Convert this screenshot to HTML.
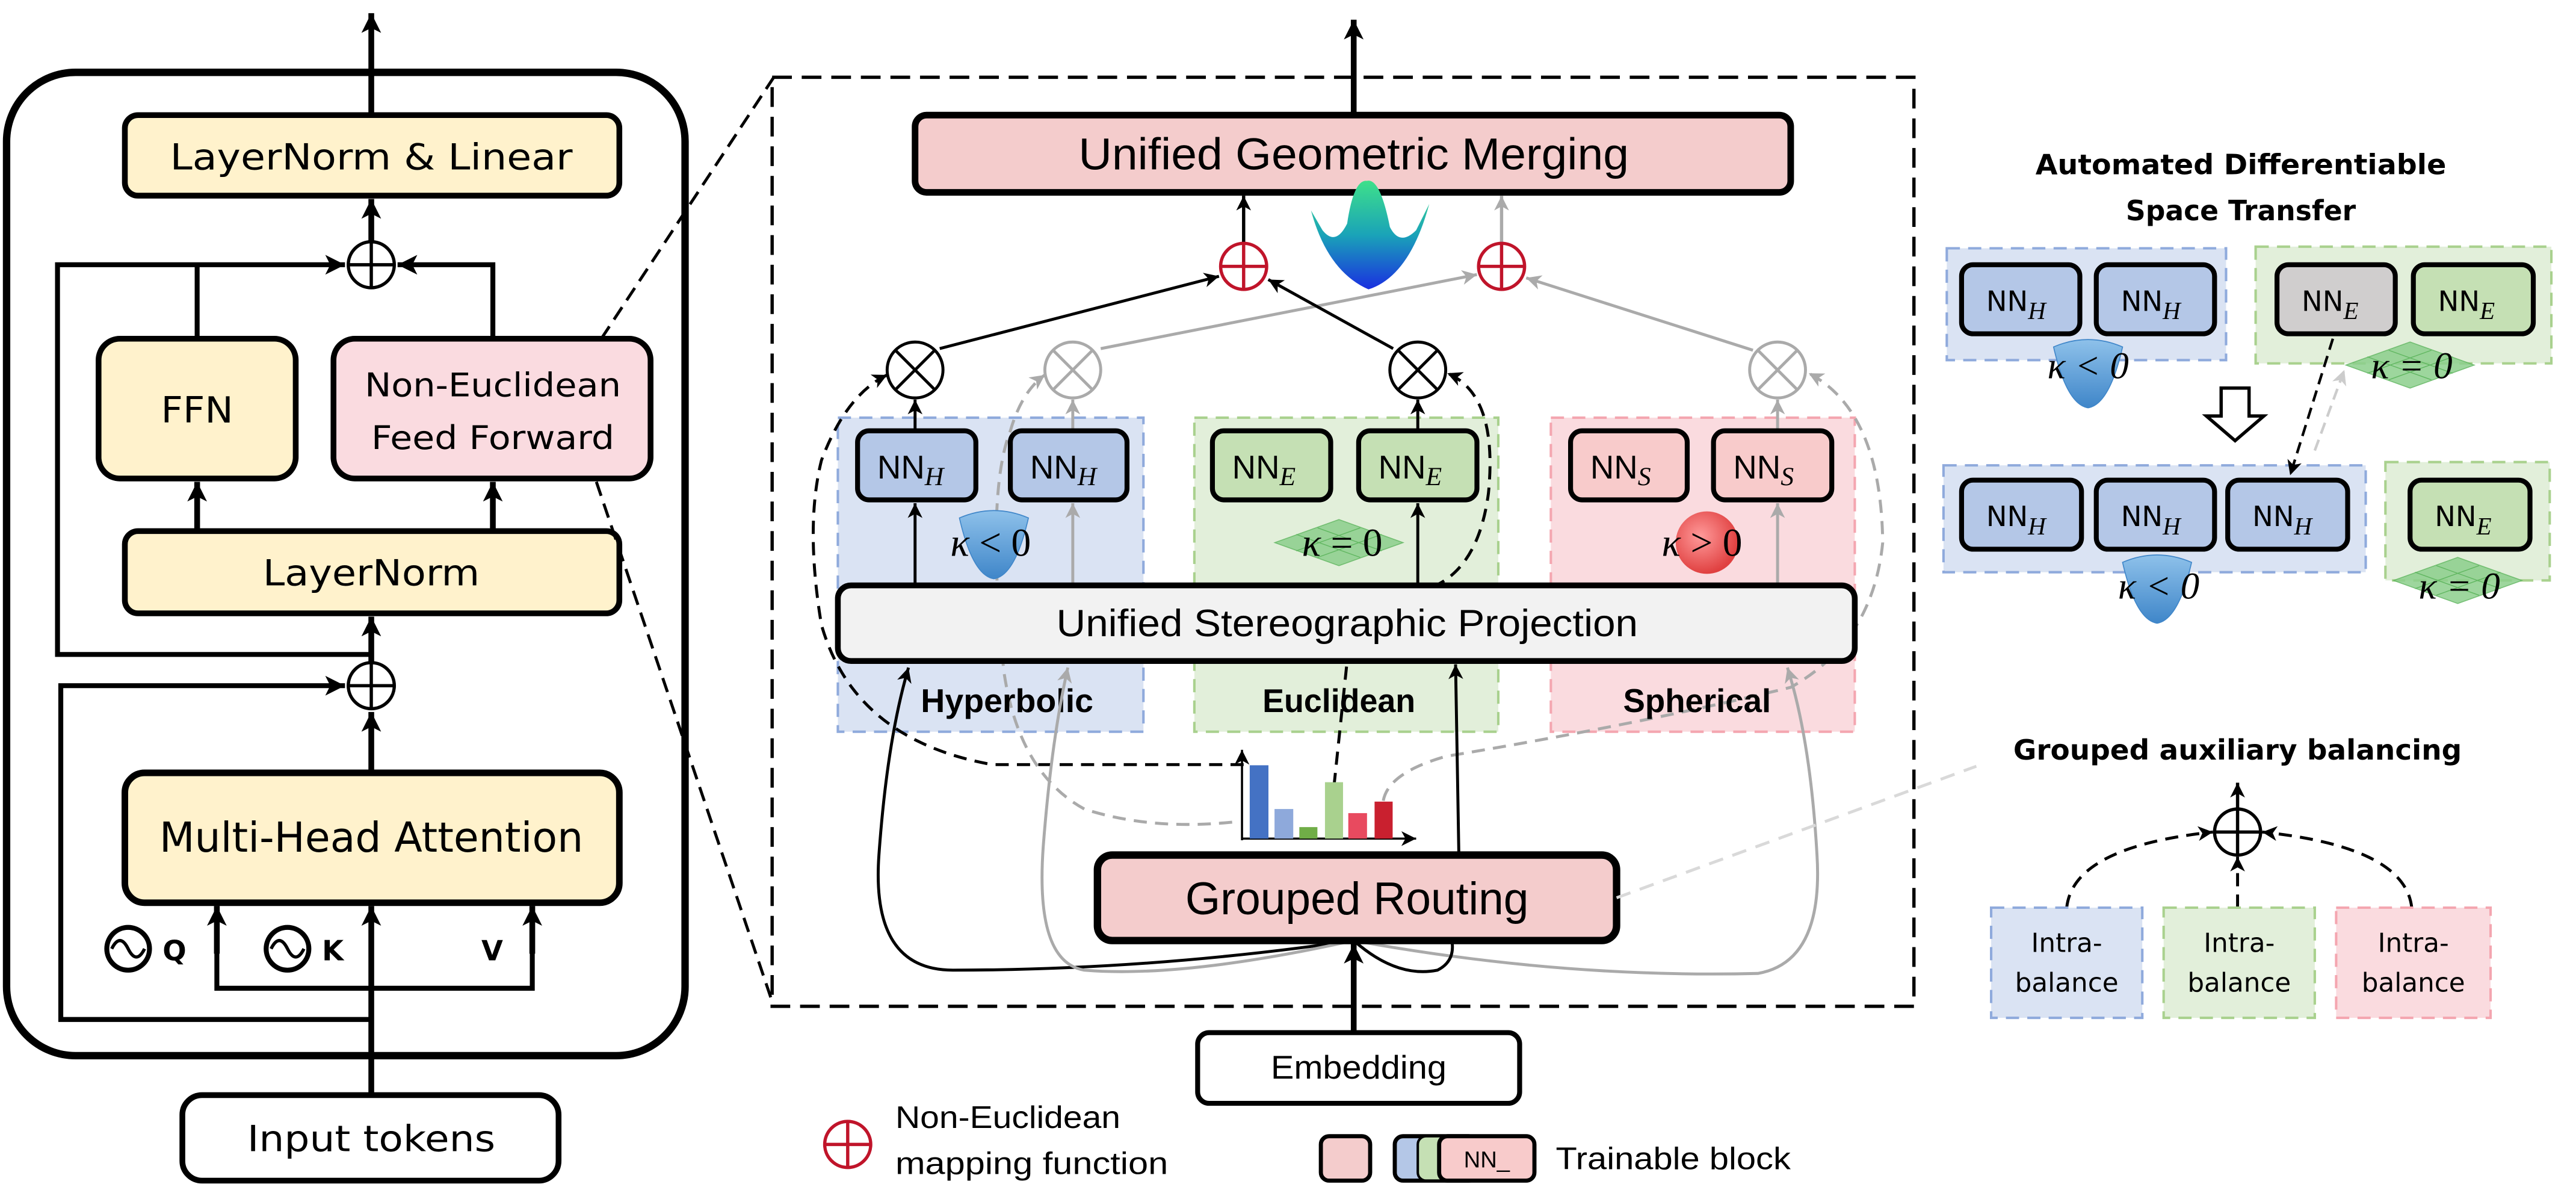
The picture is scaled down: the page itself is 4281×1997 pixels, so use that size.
<!DOCTYPE html>
<html><head><meta charset="utf-8"><style>
html,body{margin:0;padding:0;background:#fff;}
svg{display:block;}
.v{font-family:"DejaVu Sans","Liberation Sans",sans-serif;}
.c{font-family:"Liberation Sans","DejaVu Sans",sans-serif;}
.s{font-family:"Liberation Serif","DejaVu Serif",serif;font-style:italic;}
</style></head><body>
<svg width="4281" height="1997" viewBox="0 0 1568 731" preserveAspectRatio="none" xmlns="http://www.w3.org/2000/svg">
<defs>
<marker id="ab" markerUnits="userSpaceOnUse" markerWidth="14" markerHeight="14" refX="12" refY="6" orient="auto"><path d="M0,0 L12,6 L0,12 L3,6 Z" fill="#000"/></marker>
<marker id="abs" markerUnits="userSpaceOnUse" markerWidth="10" markerHeight="10" refX="9" refY="4.5" orient="auto"><path d="M0,0 L9,4.5 L0,9 L2.5,4.5 Z" fill="#000"/></marker>
<marker id="ag" markerUnits="userSpaceOnUse" markerWidth="10" markerHeight="10" refX="9" refY="4.5" orient="auto"><path d="M0,0 L9,4.5 L0,9 L2.5,4.5 Z" fill="#aaa"/></marker>
<marker id="agl" markerUnits="userSpaceOnUse" markerWidth="10" markerHeight="10" refX="9" refY="4.5" orient="auto"><path d="M0,0 L9,4.5 L0,9 L2.5,4.5 Z" fill="#ccc"/></marker>
<radialGradient id="sph" cx="0.4" cy="0.4" r="0.6"><stop offset="0" stop-color="#ff9a9a"/><stop offset="1" stop-color="#e04040"/></radialGradient>
<linearGradient id="bowl" x1="0" y1="0" x2="0" y2="1"><stop offset="0" stop-color="#8ec1ea"/><stop offset="1" stop-color="#3f86c9"/></linearGradient>
<linearGradient id="surf" x1="0" y1="0" x2="0" y2="1"><stop offset="0" stop-color="#3ee08a"/><stop offset="0.5" stop-color="#1aa3b8"/><stop offset="1" stop-color="#1a2fe0"/></linearGradient>
<g id="bw"><path d="M-21,-13 Q0,-22 21,-13 Q13,22 0,24 Q-13,22 -21,-13 Z" fill="url(#bowl)" stroke="#3f86c9" stroke-width="0.6"/></g>
<g id="rh"><polygon points="-39,0 0,-14 39,0 0,14" fill="#8ccf8c" opacity="0.85" stroke="#5fb65f" stroke-width="0.6"/><path d="M-26,-5 L13,9 M-13,-9 L26,5 M-26,5 L13,-9 M-13,9 L26,-5" stroke="#5fb65f" stroke-width="0.5"/></g>
</defs>

<!-- ===== LEFT PANEL ===== -->
<rect x="4" y="44" width="413" height="598" rx="42" fill="none" stroke="#000" stroke-width="4.5"/>
<line x1="226" y1="69" x2="226" y2="8" stroke="#000" stroke-width="3.5" marker-end="url(#ab)"/>
<rect x="76" y="70" width="301" height="49" rx="8" fill="#FFF2CC" stroke="#000" stroke-width="3.5"/>
<text x="226" y="103" text-anchor="middle" class="v" font-size="22" textLength="245" lengthAdjust="spacingAndGlyphs">LayerNorm &amp; Linear</text>
<circle cx="226" cy="161" r="14" fill="none" stroke="#000" stroke-width="2"/>
<line x1="212" y1="161" x2="240" y2="161" stroke="#000" stroke-width="2"/><line x1="226" y1="147" x2="226" y2="175" stroke="#000" stroke-width="2"/>
<line x1="226" y1="147" x2="226" y2="121" stroke="#000" stroke-width="3.5" marker-end="url(#ab)"/>
<polyline points="226,398 35,398 35,161 210,161" fill="none" stroke="#000" stroke-width="3" marker-end="url(#ab)"/>
<line x1="120" y1="206" x2="120" y2="161" stroke="#000" stroke-width="3"/>
<polyline points="300,206 300,161 242,161" fill="none" stroke="#000" stroke-width="3" marker-end="url(#ab)"/>
<rect x="60" y="206" width="120" height="85" rx="13" fill="#FFF2CC" stroke="#000" stroke-width="3.5"/>
<text x="120" y="257" text-anchor="middle" class="v" font-size="22" textLength="44" lengthAdjust="spacingAndGlyphs">FFN</text>
<rect x="203" y="206" width="193" height="85" rx="13" fill="#FADBE0" stroke="#000" stroke-width="3.5"/>
<text x="300" y="241" text-anchor="middle" class="v" font-size="20" textLength="156" lengthAdjust="spacingAndGlyphs">Non-Euclidean</text>
<text x="300" y="273" text-anchor="middle" class="v" font-size="20" textLength="148" lengthAdjust="spacingAndGlyphs">Feed Forward</text>
<line x1="120" y1="323" x2="120" y2="293" stroke="#000" stroke-width="3.5" marker-end="url(#ab)"/>
<line x1="300" y1="323" x2="300" y2="293" stroke="#000" stroke-width="3.5" marker-end="url(#ab)"/>
<rect x="76" y="323" width="301" height="50" rx="8" fill="#FFF2CC" stroke="#000" stroke-width="3.5"/>
<text x="226" y="356" text-anchor="middle" class="v" font-size="22" textLength="132" lengthAdjust="spacingAndGlyphs">LayerNorm</text>
<line x1="226" y1="403" x2="226" y2="375" stroke="#000" stroke-width="3.5" marker-end="url(#ab)"/>
<circle cx="226" cy="417" r="14" fill="none" stroke="#000" stroke-width="2"/>
<line x1="212" y1="417" x2="240" y2="417" stroke="#000" stroke-width="2"/><line x1="226" y1="403" x2="226" y2="431" stroke="#000" stroke-width="2"/>
<polyline points="226,620 37,620 37,417 210,417" fill="none" stroke="#000" stroke-width="3" marker-end="url(#ab)"/>
<line x1="226" y1="470" x2="226" y2="433" stroke="#000" stroke-width="3.5" marker-end="url(#ab)"/>
<rect x="76" y="470" width="301" height="79" rx="12" fill="#FFF2CC" stroke="#000" stroke-width="4"/>
<text x="226" y="518" text-anchor="middle" class="v" font-size="25" textLength="258" lengthAdjust="spacingAndGlyphs">Multi-Head Attention</text>
<line x1="226" y1="666" x2="226" y2="551" stroke="#000" stroke-width="3.5" marker-end="url(#ab)"/>
<polyline points="132,551 132,601 324,601 324,551" fill="none" stroke="#000" stroke-width="3"/>
<line x1="132" y1="580" x2="132" y2="551" stroke="#000" stroke-width="3.5" marker-end="url(#ab)"/>
<line x1="324" y1="580" x2="324" y2="551" stroke="#000" stroke-width="3.5" marker-end="url(#ab)"/>
<circle cx="78" cy="577" r="13" fill="none" stroke="#000" stroke-width="3"/>
<path d="M68,577 Q73,567 78,577 Q83,587 88,577" fill="none" stroke="#000" stroke-width="2"/>
<text x="99" y="584" class="v" font-size="17" font-weight="bold">Q</text>
<circle cx="175" cy="577" r="13" fill="none" stroke="#000" stroke-width="3"/>
<path d="M165,577 Q170,567 175,577 Q180,587 185,577" fill="none" stroke="#000" stroke-width="2"/>
<text x="196" y="584" class="v" font-size="17" font-weight="bold">K</text>
<text x="293" y="584" class="v" font-size="17" font-weight="bold">V</text>
<rect x="111" y="666" width="229" height="52" rx="12" fill="#fff" stroke="#000" stroke-width="3.5"/>
<text x="226" y="700" text-anchor="middle" class="v" font-size="22" textLength="151" lengthAdjust="spacingAndGlyphs">Input tokens</text>

<!-- zoom dashed lines -->
<line x1="366" y1="206" x2="471" y2="47" stroke="#000" stroke-width="1.8" stroke-dasharray="9,5"/>
<line x1="363" y1="293" x2="471" y2="612" stroke="#000" stroke-width="1.8" stroke-dasharray="9,5"/>

<!-- ===== MIDDLE PANEL ===== -->
<rect x="470" y="47" width="695" height="565" fill="none" stroke="#000" stroke-width="2" stroke-dasharray="12,6"/>
<line x1="824" y1="70" x2="824" y2="12" stroke="#000" stroke-width="3.5" marker-end="url(#ab)"/>

<rect x="510" y="254" width="186" height="191" fill="#DAE3F3" stroke="#8FAADC" stroke-width="1.5" stroke-dasharray="8,5"/>
<rect x="727" y="254" width="185" height="191" fill="#E2EFDA" stroke="#A9D18E" stroke-width="1.5" stroke-dasharray="8,5"/>
<rect x="944" y="254" width="185" height="191" fill="#FADBDF" stroke="#F4A6B0" stroke-width="1.5" stroke-dasharray="8,5"/>

<rect x="557" y="70" width="533" height="47" rx="7" fill="#F4CCCC" stroke="#000" stroke-width="4"/>
<text x="824" y="103" text-anchor="middle" class="c" font-size="27" textLength="335" lengthAdjust="spacingAndGlyphs">Unified Geometric Merging</text>

<path d="M798,128 Q808,165 833,176 Q858,168 870,124 L862,140 Q852,150 846,138 Q840,108 832,110 Q824,109 820,136 Q813,150 805,140 Z" fill="url(#surf)"/>

<line x1="757" y1="148" x2="757" y2="119" stroke="#000" stroke-width="2" marker-end="url(#abs)"/>
<line x1="914" y1="148" x2="914" y2="119" stroke="#aaa" stroke-width="2" marker-end="url(#ag)"/>
<g stroke="#C0142A" stroke-width="2" fill="none"><circle cx="757" cy="162" r="14"/><line x1="743" y1="162" x2="771" y2="162"/><line x1="757" y1="148" x2="757" y2="176"/>
<circle cx="914" cy="162" r="14"/><line x1="900" y1="162" x2="928" y2="162"/><line x1="914" y1="148" x2="914" y2="176"/></g>

<line x1="670" y1="212" x2="899" y2="167" stroke="#aaa" stroke-width="1.8" marker-end="url(#ag)"/>
<line x1="1067" y1="213" x2="929" y2="169" stroke="#aaa" stroke-width="1.8" marker-end="url(#ag)"/>
<line x1="572" y1="212" x2="742" y2="168" stroke="#000" stroke-width="1.8" marker-end="url(#abs)"/>
<line x1="848" y1="212" x2="772" y2="170" stroke="#000" stroke-width="1.8" marker-end="url(#abs)"/>

<g fill="#fff" stroke-width="1.8">
<g stroke="#000"><circle cx="557" cy="225" r="17"/><path d="M545,213 L569,237 M569,213 L545,237"/></g>
<g stroke="#aaa"><circle cx="653" cy="225" r="17"/><path d="M641,213 L665,237 M665,213 L641,237"/></g>
<g stroke="#000"><circle cx="863" cy="225" r="17"/><path d="M851,213 L875,237 M875,213 L851,237"/></g>
<g stroke="#aaa"><circle cx="1082" cy="225" r="17"/><path d="M1070,213 L1094,237 M1094,213 L1070,237"/></g>
</g>
<line x1="557" y1="262" x2="557" y2="243" stroke="#000" stroke-width="1.8" marker-end="url(#abs)"/>
<line x1="653" y1="262" x2="653" y2="243" stroke="#aaa" stroke-width="1.8" marker-end="url(#ag)"/>
<line x1="863" y1="262" x2="863" y2="243" stroke="#000" stroke-width="1.8" marker-end="url(#abs)"/>
<line x1="1082" y1="262" x2="1082" y2="243" stroke="#aaa" stroke-width="1.8" marker-end="url(#ag)"/>

<path d="M750,500 Q700,505 660,492 Q620,470 611,408 Q600,300 615,262 Q622,238 636,228" fill="none" stroke="#aaa" stroke-width="1.8" stroke-dasharray="8,5" marker-end="url(#ag)"/>
<path d="M842,487 Q845,470 880,460 Q1000,440 1090,418 Q1140,390 1146,330 Q1145,250 1101,227" fill="none" stroke="#aaa" stroke-width="1.8" stroke-dasharray="8,5" marker-end="url(#ag)"/>
<path d="M757,465 L604,465 Q520,450 500,380 Q490,320 500,280 Q515,240 540,228" fill="none" stroke="#000" stroke-width="1.8" stroke-dasharray="8,5" marker-end="url(#abs)"/>
<path d="M812,478 L820,402" fill="none" stroke="#000" stroke-width="1.8" stroke-dasharray="8,5"/>
<path d="M872,357 Q900,345 906,300 Q912,240 881,227" fill="none" stroke="#000" stroke-width="1.8" stroke-dasharray="8,5" marker-end="url(#abs)"/>

<g stroke="#000" stroke-width="3">
<rect x="522" y="262" width="72" height="42" rx="7" fill="#B4C7E7"/>
<rect x="615" y="262" width="71" height="42" rx="7" fill="#B4C7E7"/>
<rect x="738" y="262" width="72" height="42" rx="7" fill="#C5E0B4"/>
<rect x="827" y="262" width="72" height="42" rx="7" fill="#C5E0B4"/>
<rect x="956" y="262" width="71" height="42" rx="7" fill="#F8CBCB"/>
<rect x="1043" y="262" width="72" height="42" rx="7" fill="#F8CBCB"/>
</g>
<g class="c" font-size="20">
<text x="534" y="291">NN<tspan class="s" font-size="16" dy="4">H</tspan></text>
<text x="627" y="291">NN<tspan class="s" font-size="16" dy="4">H</tspan></text>
<text x="750" y="291">NN<tspan class="s" font-size="16" dy="4">E</tspan></text>
<text x="839" y="291">NN<tspan class="s" font-size="16" dy="4">E</tspan></text>
<text x="968" y="291">NN<tspan class="s" font-size="16" dy="4">S</tspan></text>
<text x="1055" y="291">NN<tspan class="s" font-size="16" dy="4">S</tspan></text>
</g>

<use href="#bw" x="605" y="328"/>
<use href="#rh" x="815" y="330"/>
<circle cx="1039" cy="330" r="19" fill="url(#sph)"/>
<g class="s" font-size="24">
<text x="603" y="338" text-anchor="middle" font-style="normal"><tspan font-style="italic">κ</tspan> &lt; 0</text>
<text x="817" y="338" text-anchor="middle" font-style="normal"><tspan font-style="italic">κ</tspan> = 0</text>
<text x="1036" y="338" text-anchor="middle" font-style="normal"><tspan font-style="italic">κ</tspan> &gt; 0</text>
</g>

<line x1="557" y1="356" x2="557" y2="306" stroke="#000" stroke-width="1.8" marker-end="url(#abs)"/>
<line x1="653" y1="356" x2="653" y2="306" stroke="#aaa" stroke-width="1.8" marker-end="url(#ag)"/>
<line x1="863" y1="356" x2="863" y2="306" stroke="#000" stroke-width="1.8" marker-end="url(#abs)"/>
<line x1="1082" y1="356" x2="1082" y2="306" stroke="#aaa" stroke-width="1.8" marker-end="url(#ag)"/>

<rect x="510" y="356" width="619" height="46" rx="8" fill="#F2F2F2" stroke="#000" stroke-width="3.5"/>
<text x="820" y="387" text-anchor="middle" class="c" font-size="23" textLength="354" lengthAdjust="spacingAndGlyphs">Unified Stereographic Projection</text>

<g class="c" font-size="20" font-weight="bold">
<text x="613" y="433" text-anchor="middle" textLength="105" lengthAdjust="spacingAndGlyphs">Hyperbolic</text>
<text x="815" y="433" text-anchor="middle" textLength="93" lengthAdjust="spacingAndGlyphs">Euclidean</text>
<text x="1033" y="433" text-anchor="middle" textLength="90" lengthAdjust="spacingAndGlyphs">Spherical</text>
</g>

<path d="M824,572 Q700,590 580,590 Q530,590 535,520 Q540,450 553,406" fill="none" stroke="#000" stroke-width="1.8" marker-end="url(#abs)"/>
<path d="M824,572 Q720,595 660,590 Q630,585 635,515 Q640,450 650,406" fill="none" stroke="#aaa" stroke-width="1.8" marker-end="url(#ag)"/>
<path d="M824,572 Q950,595 1070,592 Q1110,585 1106,520 Q1102,450 1088,406" fill="none" stroke="#aaa" stroke-width="1.8" marker-end="url(#ag)"/>
<path d="M824,572 Q850,595 875,590 Q885,585 884,574" fill="none" stroke="#000" stroke-width="1.8"/>
<line x1="888" y1="520" x2="886" y2="404" stroke="#000" stroke-width="1.8" marker-end="url(#abs)"/>

<line x1="756" y1="511" x2="756" y2="456" stroke="#000" stroke-width="1.3" marker-end="url(#abs)"/>
<line x1="756" y1="510" x2="862" y2="510" stroke="#000" stroke-width="1.3" marker-end="url(#abs)"/>
<rect x="760.7" y="465.4" width="11.4" height="44.6" fill="#4472C4"/>
<rect x="775.8" y="492" width="11.4" height="18" fill="#8EA9DB"/>
<rect x="790.9" y="503" width="11" height="7" fill="#70AD47"/>
<rect x="806.5" y="475.7" width="11" height="34.3" fill="#A9D18E"/>
<rect x="820.7" y="494.5" width="11.4" height="15.5" fill="#E84A5F"/>
<rect x="836.7" y="487.5" width="11" height="22.5" fill="#C9202F"/>

<line x1="824" y1="628" x2="824" y2="574" stroke="#000" stroke-width="3.5" marker-end="url(#ab)"/>
<rect x="668" y="520" width="316" height="52" rx="9" fill="#F4CCCC" stroke="#000" stroke-width="4.5"/>
<text x="826" y="556" text-anchor="middle" class="c" font-size="28" textLength="209" lengthAdjust="spacingAndGlyphs">Grouped Routing</text>
<rect x="729" y="628" width="196" height="43" rx="7" fill="#fff" stroke="#000" stroke-width="3"/>
<text x="827" y="656" text-anchor="middle" class="c" font-size="20" textLength="107" lengthAdjust="spacingAndGlyphs">Embedding</text>

<line x1="984" y1="546" x2="1203" y2="466" stroke="#d9d9d9" stroke-width="1.8" stroke-dasharray="9,6"/>

<g stroke="#C0142A" stroke-width="2" fill="none"><circle cx="516" cy="696" r="14"/><line x1="502" y1="696" x2="530" y2="696"/><line x1="516" y1="682" x2="516" y2="710"/></g>
<text x="545" y="686" class="c" font-size="19" textLength="137" lengthAdjust="spacingAndGlyphs">Non-Euclidean</text>
<text x="545" y="714" class="c" font-size="19" textLength="166" lengthAdjust="spacingAndGlyphs">mapping function</text>
<rect x="804" y="691" width="30" height="27" rx="5" fill="#F4CCCC" stroke="#000" stroke-width="2.5"/>
<rect x="849" y="691" width="50" height="27" rx="5" fill="#B4C7E7" stroke="#000" stroke-width="2.5"/>
<rect x="863" y="691" width="45" height="27" rx="5" fill="#C5E0B4" stroke="#000" stroke-width="1.5"/>
<rect x="876" y="691" width="58" height="27" rx="5" fill="#F8CBCB" stroke="#000" stroke-width="2.5"/>
<text x="905" y="710" text-anchor="middle" class="c" font-size="14">NN_</text>
<text x="947" y="711" class="c" font-size="19" textLength="143" lengthAdjust="spacingAndGlyphs">Trainable block</text>

<!-- ===== RIGHT PANEL ===== -->
<g class="v" font-size="17" font-weight="bold" text-anchor="middle">
<text x="1364" y="106" textLength="250" lengthAdjust="spacingAndGlyphs">Automated Differentiable</text>
<text x="1364" y="134" textLength="140" lengthAdjust="spacingAndGlyphs">Space Transfer</text>
<text x="1362" y="462" textLength="273" lengthAdjust="spacingAndGlyphs">Grouped auxiliary balancing</text>
</g>
<rect x="1185" y="151" width="170" height="68" fill="#DAE3F3" stroke="#8FAADC" stroke-width="1.5" stroke-dasharray="8,5"/>
<rect x="1373" y="150" width="180" height="71" fill="#E2EFDA" stroke="#A9D18E" stroke-width="1.5" stroke-dasharray="8,5"/>
<rect x="1183" y="283" width="257" height="65" fill="#DAE3F3" stroke="#8FAADC" stroke-width="1.5" stroke-dasharray="8,5"/>
<rect x="1452" y="281" width="100" height="72" fill="#E2EFDA" stroke="#A9D18E" stroke-width="1.5" stroke-dasharray="8,5"/>
<g stroke="#000" stroke-width="3">
<rect x="1194" y="161" width="72" height="42" rx="7" fill="#B4C7E7"/>
<rect x="1276" y="161" width="72" height="42" rx="7" fill="#B4C7E7"/>
<rect x="1386" y="161" width="72" height="42" rx="7" fill="#D0CECE"/>
<rect x="1469" y="161" width="73" height="42" rx="7" fill="#C5E0B4"/>
<rect x="1194" y="292" width="73" height="42" rx="7" fill="#B4C7E7"/>
<rect x="1276" y="292" width="72" height="42" rx="7" fill="#B4C7E7"/>
<rect x="1356" y="292" width="73" height="42" rx="7" fill="#B4C7E7"/>
<rect x="1467" y="292" width="73" height="42" rx="7" fill="#C5E0B4"/>
</g>
<g class="v" font-size="17">
<text x="1209" y="189">NN<tspan class="s" font-size="15" dy="5">H</tspan></text>
<text x="1291" y="189">NN<tspan class="s" font-size="15" dy="5">H</tspan></text>
<text x="1401" y="189">NN<tspan class="s" font-size="15" dy="5">E</tspan></text>
<text x="1484" y="189">NN<tspan class="s" font-size="15" dy="5">E</tspan></text>
<text x="1209" y="320">NN<tspan class="s" font-size="15" dy="5">H</tspan></text>
<text x="1291" y="320">NN<tspan class="s" font-size="15" dy="5">H</tspan></text>
<text x="1371" y="320">NN<tspan class="s" font-size="15" dy="5">H</tspan></text>
<text x="1482" y="320">NN<tspan class="s" font-size="15" dy="5">E</tspan></text>
</g>
<use href="#bw" x="1271" y="224"/>
<use href="#rh" x="1467" y="222"/>
<use href="#bw" x="1313" y="355"/>
<use href="#rh" x="1496" y="353"/>
<g class="s" font-size="23" font-style="normal" text-anchor="middle">
<text x="1271" y="230"><tspan font-style="italic">κ</tspan> &lt; 0</text>
<text x="1468" y="230"><tspan font-style="italic">κ</tspan> = 0</text>
<text x="1314" y="364"><tspan font-style="italic">κ</tspan> &lt; 0</text>
<text x="1497" y="364"><tspan font-style="italic">κ</tspan> = 0</text>
</g>
<polygon points="1352,236 1369,236 1369,253 1378,253 1360.5,268 1343,253 1352,253" fill="#fff" stroke="#000" stroke-width="2"/>
<line x1="1420" y1="206" x2="1394" y2="289" stroke="#000" stroke-width="1.6" stroke-dasharray="7,4" marker-end="url(#abs)"/>
<line x1="1409" y1="274" x2="1427" y2="225" stroke="#ccc" stroke-width="1.6" stroke-dasharray="7,4" marker-end="url(#agl)"/>

<circle cx="1362" cy="506" r="14" fill="none" stroke="#000" stroke-width="2"/>
<line x1="1348" y1="506" x2="1376" y2="506" stroke="#000" stroke-width="2"/>
<line x1="1362" y1="492" x2="1362" y2="520" stroke="#000" stroke-width="2"/>
<line x1="1362" y1="492" x2="1362" y2="476" stroke="#000" stroke-width="2" marker-end="url(#abs)"/>
<path d="M1258,552 Q1262,515 1347,506" fill="none" stroke="#000" stroke-width="1.8" stroke-dasharray="8,5" marker-end="url(#abs)"/>
<path d="M1468,552 Q1464,515 1377,506" fill="none" stroke="#000" stroke-width="1.8" stroke-dasharray="8,5" marker-end="url(#abs)"/>
<line x1="1362" y1="552" x2="1362" y2="521" stroke="#000" stroke-width="1.8" stroke-dasharray="8,5" marker-end="url(#abs)"/>
<rect x="1212" y="552" width="92" height="67" fill="#DAE3F3" stroke="#8FAADC" stroke-width="1.5" stroke-dasharray="8,5"/>
<rect x="1317" y="552" width="92" height="67" fill="#E2EFDA" stroke="#A9D18E" stroke-width="1.5" stroke-dasharray="8,5"/>
<rect x="1422" y="552" width="94" height="67" fill="#FADBDF" stroke="#F4A6B0" stroke-width="1.5" stroke-dasharray="8,5"/>
<g class="v" font-size="16" text-anchor="middle">
<text x="1258" y="579">Intra-</text><text x="1258" y="603">balance</text>
<text x="1363" y="579">Intra-</text><text x="1363" y="603">balance</text>
<text x="1469" y="579">Intra-</text><text x="1469" y="603">balance</text>
</g>
</svg>
</body></html>
